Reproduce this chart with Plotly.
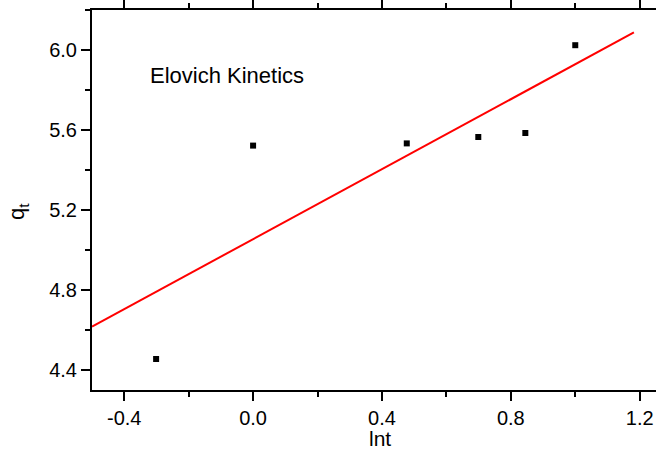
import plotly.graph_objects as go

# Data
lnt = [-0.301, 0.0, 0.477, 0.699, 0.845, 1.0]
qt = [4.455, 5.522, 5.533, 5.565, 5.585, 6.024]

fit_x = [-0.5, 1.182]
fit_y = [4.617, 6.088]

x_ticks = [-0.4, 0.0, 0.4, 0.8, 1.2]
y_ticks = [4.4, 4.8, 5.2, 5.6, 6.0]

FONT = "Liberation Sans, Arial, sans-serif"

fig = go.Figure()
fig.add_trace(go.Scatter(
    x=fit_x, y=fit_y, mode="lines",
    line=dict(color="#ff0000", width=2), showlegend=False, hoverinfo="skip"))
fig.add_trace(go.Scatter(
    x=lnt, y=qt, mode="markers",
    marker=dict(symbol="square", size=6, color="black"), showlegend=False))

fig.add_annotation(
    x=-0.325, y=5.875, xref="x", yref="y", text="Elovich Kinetics",
    showarrow=False, xanchor="left", yanchor="middle",
    font=dict(family=FONT, size=22, color="black"))

# axis titles placed as annotations for exact positioning
fig.add_annotation(
    x=0.5106, y=-0.127, xref="paper", yref="paper", text="lnt",
    showarrow=False, xanchor="center", yanchor="middle", borderpad=0,
    font=dict(family=FONT, size=21, color="black"))
fig.add_annotation(
    x=-0.13, y=0.47, xref="paper", yref="paper", text="q<sub>t</sub>",
    showarrow=False, xanchor="center", yanchor="middle", textangle=-90,
    font=dict(family=FONT, size=22, color="black"))

axis_common = dict(
    showgrid=False, zeroline=False, showline=True, linecolor="black", linewidth=2,
    ticks="outside", ticklen=9, tickwidth=2, tickcolor="black",
    tickfont=dict(family=FONT, size=20, color="black"),
)

fig.update_xaxes(
    **axis_common, range=[-0.5, 1.2506], tickvals=x_ticks,
    ticktext=[f"{v:.1f}" for v in x_ticks], mirror="ticks",
    minor=dict(dtick=0.2, tick0=0, ticks="outside", ticklen=5, tickwidth=2, tickcolor="black"),
)
fig.update_yaxes(
    **axis_common, range=[4.3, 6.2], tickvals=y_ticks,
    ticktext=[f"{v:.1f}" for v in y_ticks],
    minor=dict(dtick=0.2, tick0=0, ticks="outside", ticklen=5, tickwidth=2, tickcolor="black"),
)

fig.update_layout(
    width=656, height=450,
    margin=dict(l=92, r=0, t=10, b=60, autoexpand=False),
    plot_bgcolor="white", paper_bgcolor="white",
)

fig.write_html("out.html")
